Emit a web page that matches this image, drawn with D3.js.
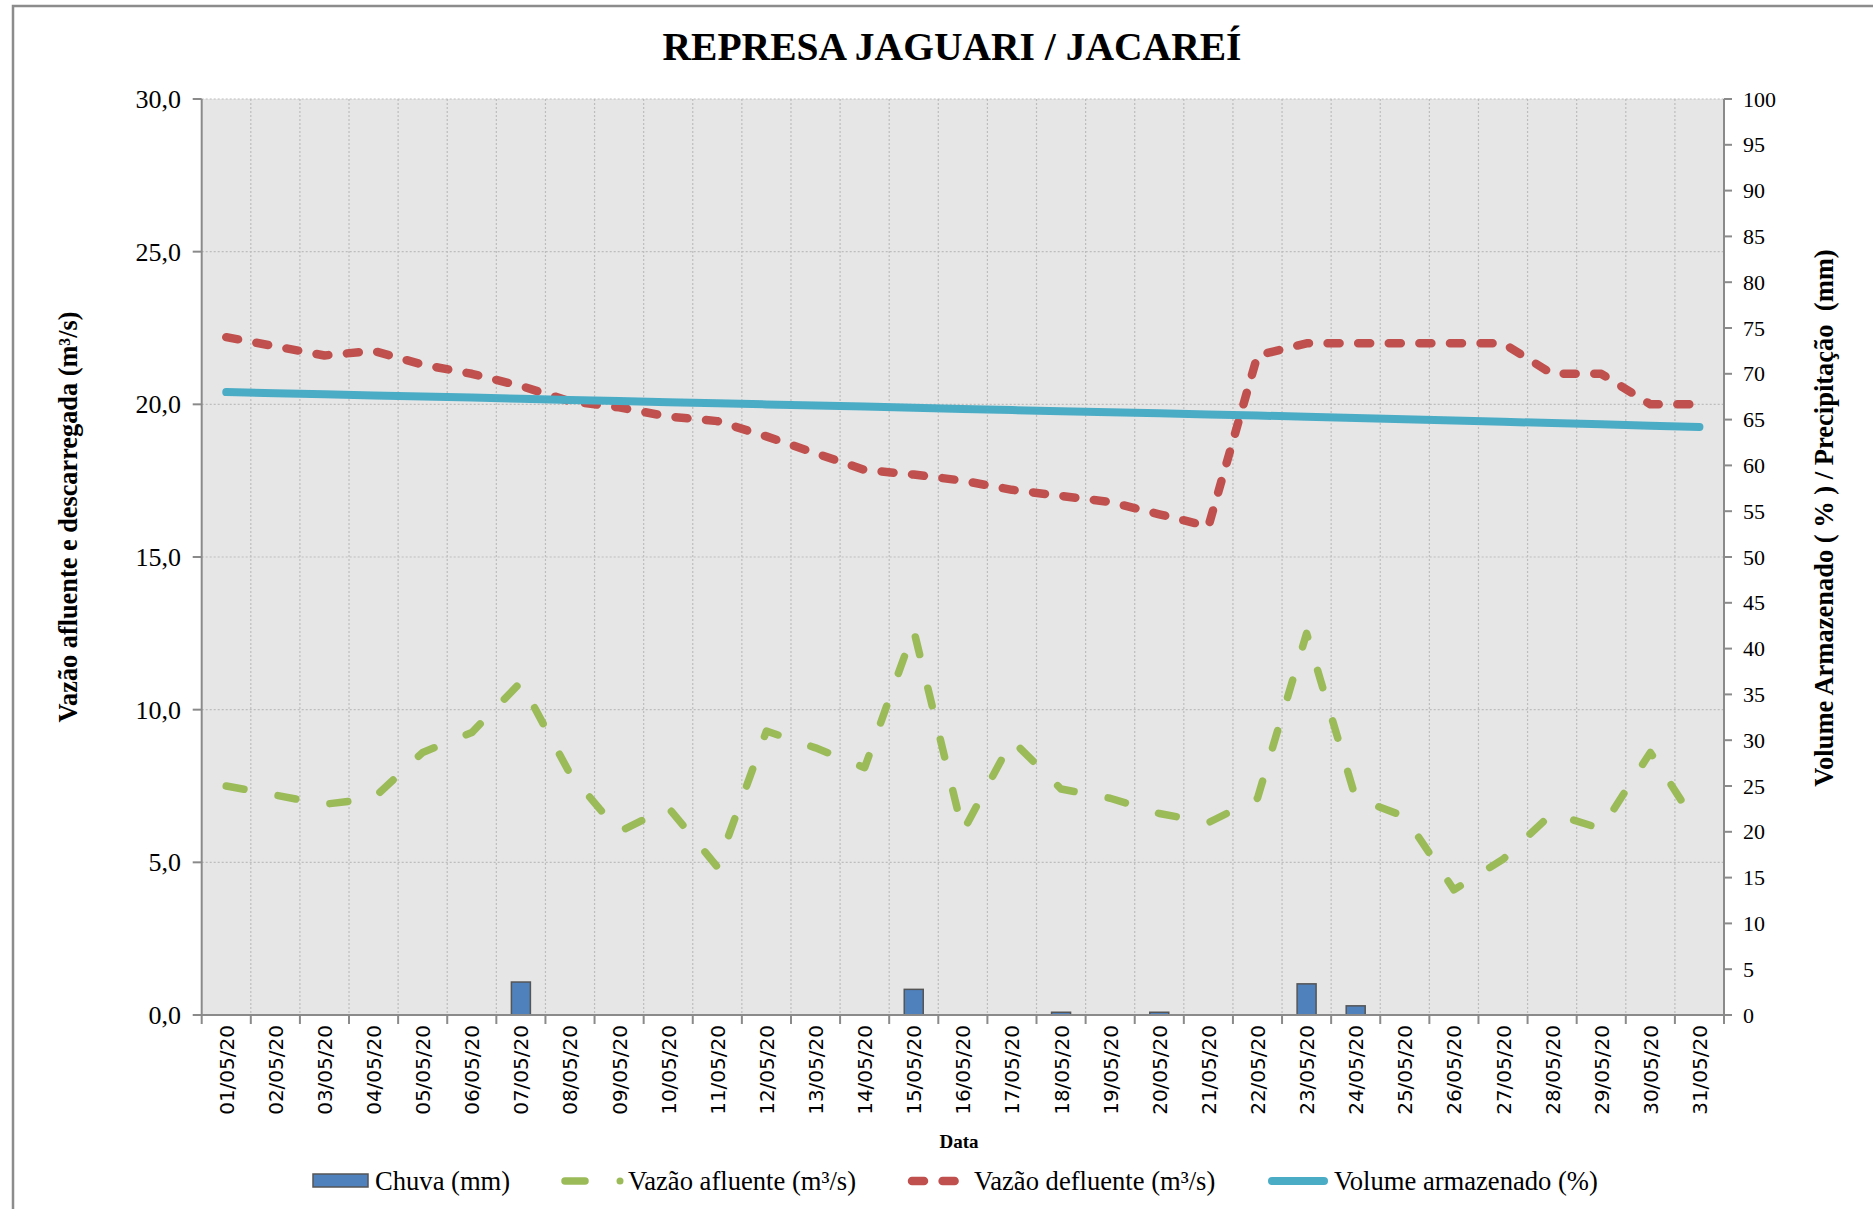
<!DOCTYPE html>
<html>
<head>
<meta charset="utf-8">
<script src="https://d3js.org/d3.v7.min.js"></script>
<style>
  body { margin: 0; background: #fff; }
  svg text { font-family: "Liberation Serif", "Times New Roman", serif; fill: #000; }
  .xtick { font-family: "DejaVu Sans", Verdana, sans-serif !important; }
</style>
</head>
<body>
<svg id="chart" width="1873" height="1209"></svg>
<script>
var dates = ["01/05/20", "02/05/20", "03/05/20", "04/05/20", "05/05/20", "06/05/20", "07/05/20",
  "08/05/20", "09/05/20", "10/05/20", "11/05/20", "12/05/20", "13/05/20", "14/05/20",
  "15/05/20", "16/05/20", "17/05/20", "18/05/20", "19/05/20", "20/05/20", "21/05/20",
  "22/05/20", "23/05/20", "24/05/20", "25/05/20", "26/05/20", "27/05/20", "28/05/20",
  "29/05/20", "30/05/20", "31/05/20"];

// Chuva (mm) - eixo direito
var chuva = [0, 0, 0, 0, 0, 0, 3.6, 0, 0, 0, 0, 0, 0, 0, 2.8, 0, 0, 0.3, 0, 0.3, 0,
  0, 3.4, 1.0, 0, 0, 0, 0, 0, 0, 0];

// Vazão afluente (m³/s) - eixo esquerdo
var afluente = [7.5, 7.2, 6.9, 7.1, 8.6, 9.25, 10.9, 7.9, 6.0, 6.8, 4.85, 9.3, 8.75, 8.1,
  12.6, 6.0, 9.0, 7.4, 7.1, 6.6, 6.3, 7.1, 12.5, 7.1, 6.5, 4.1, 5.1, 6.6, 6.1, 8.6, 6.1];

// Vazão defluente (m³/s) - eixo esquerdo
var defluente = [22.2, 21.9, 21.6, 21.75, 21.3, 21.0, 20.6, 20.1, 19.9, 19.6, 19.45, 18.95,
  18.4, 17.85, 17.7, 17.5, 17.2, 17.0, 16.8, 16.4, 16.0, 21.6, 22.0, 22.0, 22.0, 22.0,
  22.0, 21.0, 21.0, 20.0, 20.0];

// Volume armazenado (%) - eixo direito
var volume = [68.0, 67.88, 67.76, 67.64, 67.52, 67.4, 67.28, 67.15, 67.02, 66.9, 66.78, 66.66,
  66.54, 66.42, 66.3, 66.17, 66.04, 65.92, 65.8, 65.68, 65.56, 65.44, 65.31, 65.18, 65.04,
  64.9, 64.76, 64.62, 64.48, 64.34, 64.2];

var leftTicks = [0, 5, 10, 15, 20, 25, 30];
var rightTicks = [0, 5, 10, 15, 20, 25, 30, 35, 40, 45, 50, 55, 60, 65, 70, 75, 80, 85, 90, 95, 100];

var C = { chuva: "#4f81bd", afl: "#9bbb59", def: "#c0504d", vol: "#4bacc6" };

var svg = d3.select("#chart");
var L = 201.7, R = 1724, T = 99, B = 1015;

var x = d3.scaleBand().domain(dates).range([L, R]).padding(0);
var y = d3.scaleLinear().domain([0, 30]).range([B, T]);
var y2 = d3.scaleLinear().domain([0, 100]).range([B, T]);
function cx(d) { return x(d) + x.bandwidth() / 2; }

// moldura
svg.append("path")
  .attr("d", "M13,1209 L13,6 L1873,6")
  .attr("fill", "none")
  .attr("stroke", "#8c8c8c")
  .attr("stroke-width", 2.5);

// título
svg.append("text")
  .attr("x", 952).attr("y", 60)
  .attr("text-anchor", "middle")
  .attr("font-size", 40)
  .attr("font-weight", "bold")
  .attr("textLength", 579)
  .attr("lengthAdjust", "spacingAndGlyphs")
  .text("REPRESA JAGUARI / JACAREÍ");

// área de plotagem
svg.append("rect")
  .attr("x", L).attr("y", T)
  .attr("width", R - L).attr("height", B - T)
  .attr("fill", "#e6e6e6");

var grid = svg.append("g")
  .attr("stroke", "#bdbdbd")
  .attr("stroke-width", 1.2)
  .attr("stroke-dasharray", "2,2");
grid.selectAll("line.h")
  .data(leftTicks.slice(1))
  .enter().append("line")
  .attr("class", "h")
  .attr("x1", L).attr("x2", R)
  .attr("y1", function(d) { return y(d); })
  .attr("y2", function(d) { return y(d); });
grid.selectAll("line.v")
  .data(dates.slice(1))
  .enter().append("line")
  .attr("class", "v")
  .attr("x1", function(d) { return x(d); })
  .attr("x2", function(d) { return x(d); })
  .attr("y1", T).attr("y2", B);

// barras de chuva
svg.append("g").selectAll("rect")
  .data(dates)
  .enter().append("rect")
  .attr("x", function(d) { return cx(d) - 9.5; })
  .attr("width", 19)
  .attr("y", function(d, i) { return y2(chuva[i]); })
  .attr("height", function(d, i) { return B - y2(chuva[i]); })
  .attr("fill", C.chuva)
  .attr("stroke", "#555")
  .attr("stroke-width", 1.5);

function drawLine(vals, scale, color, width, dash) {
  var line = d3.line()
    .x(function(d, i) { return cx(dates[i]); })
    .y(function(d) { return scale(d); });
  var p = svg.append("path")
    .datum(vals)
    .attr("d", line)
    .attr("fill", "none")
    .attr("stroke", color)
    .attr("stroke-width", width)
    .attr("stroke-linecap", "round")
    .attr("stroke-linejoin", "round");
  if (dash) p.attr("stroke-dasharray", dash);
}

drawLine(afluente, y, C.afl, 7.5, "18,34.7");
drawLine(defluente, y, C.def, 8.5, "12,18.6");
drawLine(volume, y2, C.vol, 8, null);

// eixos
var axisColor = "#8a8a8a";
var ax = svg.append("g").attr("stroke", axisColor).attr("stroke-width", 2);
ax.append("line").attr("x1", L).attr("x2", L).attr("y1", T).attr("y2", B);
ax.append("line").attr("x1", R).attr("x2", R).attr("y1", T).attr("y2", B);
ax.append("line").attr("x1", L).attr("x2", R).attr("y1", B).attr("y2", B);

ax.selectAll("line.lt")
  .data(leftTicks)
  .enter().append("line")
  .attr("x1", L - 9).attr("x2", L)
  .attr("y1", function(d) { return y(d); })
  .attr("y2", function(d) { return y(d); });
ax.selectAll("line.rt")
  .data(rightTicks)
  .enter().append("line")
  .attr("x1", R).attr("x2", R + 8)
  .attr("y1", function(d) { return y2(d); })
  .attr("y2", function(d) { return y2(d); });
ax.selectAll("line.bt")
  .data(dates.concat(["end"]))
  .enter().append("line")
  .attr("x1", function(d) { return d == "end" ? R : x(d); })
  .attr("x2", function(d) { return d == "end" ? R : x(d); })
  .attr("y1", B).attr("y2", B + 9);

var fmt = d3.format(".1f");
svg.append("g").selectAll("text")
  .data(leftTicks)
  .enter().append("text")
  .attr("x", 181)
  .attr("y", function(d) { return y(d) + 9; })
  .attr("text-anchor", "end")
  .attr("font-size", 26)
  .text(function(d) { return fmt(d).replace(".", ","); });

svg.append("g").selectAll("text")
  .data(rightTicks)
  .enter().append("text")
  .attr("x", 1743)
  .attr("y", function(d) { return y2(d) + 7.5; })
  .attr("font-size", 22)
  .text(function(d) { return d; });

svg.append("g").selectAll("text")
  .data(dates)
  .enter().append("text")
  .attr("class", "xtick")
  .attr("transform", function(d) { return "translate(" + (cx(d) + 7.5) + ",1025) rotate(-90)"; })
  .attr("text-anchor", "end")
  .attr("font-size", 20)
  .text(function(d) { return d; });

// títulos dos eixos
svg.append("text")
  .attr("transform", "translate(77,517) rotate(-90)")
  .attr("text-anchor", "middle")
  .attr("font-size", 26.3)
  .attr("font-weight", "bold")
  .text("Vazão afluente e descarregada (m³/s)");

svg.append("text")
  .attr("transform", "translate(1833,518) rotate(-90)")
  .attr("text-anchor", "middle")
  .attr("font-size", 26.5)
  .attr("font-weight", "bold")
  .style("white-space", "pre")
  .text("Volume Armazenado ( % ) / Precipitação  (mm)");

svg.append("text")
  .attr("x", 959).attr("y", 1148)
  .attr("text-anchor", "middle")
  .attr("font-size", 19)
  .attr("font-weight", "bold")
  .text("Data");

// legenda
var lg = svg.append("g");
var lgSize = 26.6;
lg.append("rect")
  .attr("x", 313).attr("y", 1174).attr("width", 55).attr("height", 13)
  .attr("fill", C.chuva).attr("stroke", "#555").attr("stroke-width", 1.5);
lg.append("text").attr("x", 375).attr("y", 1190).attr("font-size", lgSize).text("Chuva (mm)");

lg.append("line")
  .attr("x1", 565).attr("x2", 585).attr("y1", 1181).attr("y2", 1181)
  .attr("stroke", C.afl).attr("stroke-width", 7.5).attr("stroke-linecap", "round");
lg.append("circle")
  .attr("cx", 620).attr("cy", 1181).attr("r", 3.5).attr("fill", C.afl);
lg.append("text").attr("x", 628).attr("y", 1190).attr("font-size", lgSize).text("Vazão afluente (m³/s)");

lg.append("line")
  .attr("x1", 912).attr("x2", 960).attr("y1", 1181).attr("y2", 1181)
  .attr("stroke", C.def).attr("stroke-width", 8.5).attr("stroke-linecap", "round")
  .attr("stroke-dasharray", "12,18.6");
lg.append("text").attr("x", 974).attr("y", 1190).attr("font-size", lgSize).text("Vazão defluente (m³/s)");

lg.append("line")
  .attr("x1", 1272).attr("x2", 1324).attr("y1", 1181).attr("y2", 1181)
  .attr("stroke", C.vol).attr("stroke-width", 8).attr("stroke-linecap", "round");
lg.append("text").attr("x", 1334).attr("y", 1190).attr("font-size", lgSize).text("Volume armazenado (%)");
</script>
</body>
</html>
